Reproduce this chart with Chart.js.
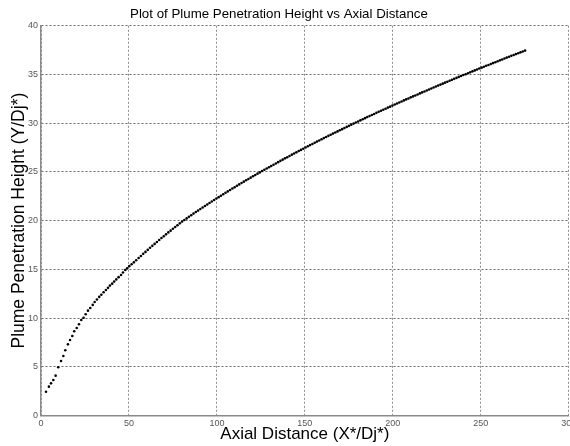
<!DOCTYPE html>
<html>
<head>
<meta charset="utf-8">
<script src="https://cdn.jsdelivr.net/npm/chart.js@4"></script>
<style>
  body { margin: 0; background: #fff; }
  #wrap { width: 570px; height: 446px; }
</style>
</head>
<body>
<div id="wrap"><canvas id="plume-chart" width="570" height="446"></canvas></div>
<script>
// Datos (X*/Dj*, Y/Dj*)
const axialDistance = [
  2.84, 4.5, 5.7, 7.0, 8.3, 9.8, 11.4, 12.7, 13.8, 15.3, 16.5, 17.8, 18.9, 20.3, 21.6, 22.9, 24.2, 25.4, 26.7, 28.0,
  29.4, 30.5, 31.8, 33.1, 34.3, 35.6, 36.9, 38.1, 39.2, 40.5, 41.6, 42.8, 44.1, 45.5, 46.6, 47.9, 49.0, 50.2, 51.5, 52.8,
  54.1, 55.5, 56.8, 58.1, 59.4, 60.7, 62.0, 63.3, 64.6, 65.9, 67.2, 68.5, 69.8, 71.1, 72.4, 73.7, 75.0, 76.3, 77.6, 78.9,
  80.2, 81.5, 82.8, 84.1, 85.4, 86.7, 88.0, 89.3, 90.6, 91.9, 93.2, 94.5, 95.8, 97.1, 98.4, 99.7, 101.0, 102.3, 103.6, 104.9,
  106.2, 107.5, 108.8, 110.1, 111.4, 112.7, 114.0, 115.3, 116.6, 117.9, 119.2, 120.5, 121.8, 123.1, 124.4, 125.7, 127.0, 128.3, 129.6, 130.9,
  132.2, 133.5, 134.8, 136.1, 137.4, 138.7, 140.0, 141.3, 142.6, 143.9, 145.2, 146.5, 147.8, 149.1, 150.4, 151.7, 153.0, 154.3, 155.6, 156.9,
  158.2, 159.5, 160.8, 162.1, 163.4, 164.7, 166.0, 167.3, 168.6, 169.9, 171.2, 172.5, 173.8, 175.1, 176.4, 177.7, 179.0, 180.3, 181.6, 182.9,
  184.2, 185.5, 186.8, 188.1, 189.4, 190.7, 192.0, 193.3, 194.6, 195.9, 197.2, 198.5, 199.8, 201.1, 202.4, 203.7, 205.0, 206.3, 207.6, 208.9,
  210.2, 211.5, 212.8, 214.1, 215.4, 216.7, 218.0, 219.3, 220.6, 221.9, 223.2, 224.5, 225.8, 227.1, 228.4, 229.7, 231.0, 232.3, 233.6, 234.9,
  236.2, 237.5, 238.8, 240.1, 241.4, 242.7, 244.0, 245.3, 246.6, 247.9, 249.2, 250.5, 251.8, 253.1, 254.4, 255.7, 257.0, 258.3, 259.6, 260.9,
  262.2, 263.5, 264.8, 266.1, 267.4, 268.7, 270.0, 271.3, 272.6, 273.9, 275.2
];
const penetrationHeight = [
  2.44, 2.96, 3.30, 3.64, 4.09, 4.95, 5.60, 6.10, 6.70, 7.30, 7.75, 8.16, 8.64, 8.98, 9.36, 9.80, 10.04, 10.39, 10.76, 11.04,
  11.35, 11.65, 11.90, 12.17, 12.40, 12.65, 12.88, 13.10, 13.33, 13.53, 13.75, 13.97, 14.20, 14.42, 14.68, 14.93, 15.11, 15.33, 15.53, 15.72,
  15.94, 16.16, 16.37, 16.59, 16.79, 17.00, 17.21, 17.41, 17.61, 17.81, 18.01, 18.21, 18.40, 18.59, 18.79, 18.97, 19.16, 19.35, 19.53, 19.72,
  19.90, 20.06, 20.23, 20.39, 20.55, 20.72, 20.88, 21.03, 21.19, 21.35, 21.50, 21.66, 21.81, 21.96, 22.12, 22.27, 22.41, 22.56, 22.71, 22.86,
  23.00, 23.15, 23.29, 23.43, 23.58, 23.72, 23.86, 24.00, 24.14, 24.27, 24.41, 24.55, 24.68, 24.82, 24.95, 25.09, 25.22, 25.35, 25.48, 25.61,
  25.74, 25.87, 26.00, 26.13, 26.26, 26.39, 26.51, 26.64, 26.77, 26.89, 27.01, 27.14, 27.26, 27.38, 27.51, 27.63, 27.75, 27.87, 27.99, 28.11,
  28.23, 28.35, 28.47, 28.58, 28.70, 28.82, 28.93, 29.05, 29.16, 29.28, 29.39, 29.51, 29.62, 29.73, 29.85, 29.96, 30.07, 30.18, 30.29, 30.41,
  30.52, 30.63, 30.74, 30.84, 30.95, 31.06, 31.17, 31.28, 31.38, 31.49, 31.60, 31.70, 31.81, 31.92, 32.02, 32.13, 32.23, 32.34, 32.44, 32.54,
  32.65, 32.75, 32.85, 32.95, 33.06, 33.16, 33.26, 33.36, 33.46, 33.56, 33.66, 33.76, 33.86, 33.96, 34.06, 34.16, 34.26, 34.36, 34.45, 34.55,
  34.65, 34.75, 34.84, 34.94, 35.03, 35.13, 35.23, 35.32, 35.42, 35.51, 35.61, 35.70, 35.80, 35.89, 35.98, 36.08, 36.17, 36.26, 36.36, 36.45,
  36.54, 36.64, 36.73, 36.82, 36.91, 37.00, 37.09, 37.18, 37.27, 37.36, 37.45
];
const xTicks = [0, 50, 100, 150, 200, 250, 300];
const yTicks = [0, 5, 10, 15, 20, 25, 30, 35, 40];

const FONT = '"Liberation Sans", Arial, sans-serif';

document.addEventListener('DOMContentLoaded', () => {
    const points = axialDistance.map((x, i) => ({ x: x, y: penetrationHeight[i] }));
    const ctx = document.getElementById('plume-chart');

    new Chart(ctx, {
        type: 'scatter',
        data: {
            datasets: [{
                data: points,
                backgroundColor: '#000',
                borderWidth: 0,
                pointRadius: 1.3,
                pointHoverRadius: 1.3
            }]
        },
        options: {
            responsive: false,
            animation: false,
            layout: { padding: { left: 0, right: 1, top: 0, bottom: 0 } },
            plugins: {
                legend: { display: false },
                tooltip: { enabled: false },
                title: {
                    display: true,
                    // espacios finales para correr el título un poco a la izquierda, como en el original
                    text: 'Plot of Plume Penetration Height vs Axial Distance\u00a0\u00a0\u00a0',
                    color: '#000',
                    font: { family: FONT, size: 13.3, weight: 'normal' },
                    padding: { top: 6.4, bottom: 3.4 }
                }
            },
            scales: {
                x: {
                    type: 'linear',
                    min: 0,
                    max: 300,
                    afterBuildTicks: s => { s.ticks = xTicks.map(v => ({ value: v })); },
                    afterFit: s => { s.height = 30.5; s.paddingLeft = 0; s.paddingRight = 0; },
                    border: { color: '#8a8a8a', width: 1.5, dash: [2, 2] },
                    grid: { color: '#8c8c8c', drawTicks: false, lineWidth: 1 },
                    ticks: { color: '#555', font: { family: FONT, size: 9 }, padding: 3, maxRotation: 0 },
                    title: {
                        display: true,
                        text: 'Axial Distance (X*/Dj*)',
                        color: '#000',
                        font: { family: FONT, size: 17 },
                        padding: { top: 0, bottom: 1.2 }
                    }
                },
                y: {
                    type: 'linear',
                    min: 0,
                    max: 40,
                    afterBuildTicks: s => { s.ticks = yTicks.map(v => ({ value: v })); },
                    afterFit: s => { s.width = 41; s.paddingTop = 0; s.paddingBottom = 0; },
                    border: { color: '#8a8a8a', width: 1.5, dash: [2, 2] },
                    grid: { color: '#6a6a6a', drawTicks: false, lineWidth: 1 },
                    ticks: { color: '#555', font: { family: FONT, size: 9 }, padding: 3 },
                    title: {
                        display: true,
                        text: 'Plume Penetration Height (Y/Dj*)',
                        color: '#000',
                        font: { family: FONT, size: 17.5 },
                        padding: { top: 8.8, bottom: 0 }
                    }
                }
            }
        }
    });
});
</script>
</body>
</html>
